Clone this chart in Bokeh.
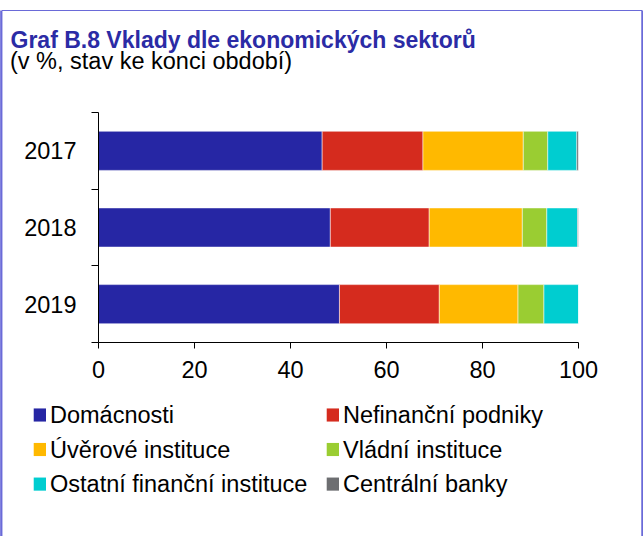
from bokeh.plotting import figure
from bokeh.models import (Range1d, LinearAxis, FixedTicker, Label, ColumnDataSource)
from bokeh.embed import file_html
from bokeh.resources import INLINE

# ---- data -------------------------------------------------------------
title = "Graf B.8 Vklady dle ekonomických sektorů"
subtitle = "(v %, stav ke konci období)"
years = ["2017", "2018", "2019"]
sectors = ["Domácnosti", "Nefinanční podniky", "Úvěrové instituce",
           "Vládní instituce", "Ostatní finanční instituce", "Centrální banky"]
domacnosti = [46.6, 48.3, 50.2]
nefinancni = [21.0, 20.6, 20.8]
uverove = [20.9, 19.4, 16.4]
vladni = [5.1, 5.1, 5.4]
ostatni = [6.05, 6.4, 7.2]
centralni = [0.35, 0.2, 0.0]
x_ticks = [0, 20, 40, 60, 80, 100]
colors = ["#2626A4", "#D52B1E", "#FFB900", "#9ACD32", "#00CDD0", "#6D6E71"]

FONT = "Liberation Sans"
TXT = "23.5px"
FRAME = "#6A6AD8"

# category slots: first year at the top, one unit per category
n = len(years)
slot = {y: n - 0.5 - i for i, y in enumerate(years)}

series = [domacnosti, nefinancni, uverove, vladni, ostatni, centralni]
data = {"pos": [slot[y] for y in years]}
for name, vals in zip(sectors, series):
    data[name] = vals
source = ColumnDataSource(data)

p = figure(width=643, height=536,
           y_range=Range1d(0, n), x_range=Range1d(0, 100),
           output_backend="svg", toolbar_location=None, y_axis_location=None,
           min_border_left=98, min_border_right=65,
           min_border_top=112, min_border_bottom=194)
p.outline_line_color = None
p.grid.visible = False
p.background_fill_color = "white"
p.border_fill_color = "white"

p.hbar_stack(sectors, y="pos", height=0.51, fill_color=colors, source=source,
             line_color="white", line_alpha=0.5, line_width=1)

# x axis
xa = p.xaxis[0]
xa.ticker = FixedTicker(ticks=x_ticks)
xa.axis_line_color = "black"
xa.major_tick_line_color = "black"
xa.major_tick_out = 6
xa.major_tick_in = 0
xa.minor_tick_line_color = None
xa.major_label_standoff = 12
xa.major_label_text_font = FONT
xa.major_label_text_font_size = TXT
xa.major_label_text_color = "black"

# y axis: labels at category centres, ticks at category boundaries
ya = LinearAxis(ticker=FixedTicker(ticks=[slot[y] for y in years],
                                   minor_ticks=list(range(n + 1))),
                major_label_overrides={slot[y]: y for y in years})
ya.axis_line_color = "black"
ya.major_tick_out = 0
ya.major_tick_in = 0
ya.major_tick_line_color = None
ya.minor_tick_out = 7
ya.minor_tick_in = 0
ya.minor_tick_line_color = "black"
ya.major_label_standoff = 15
ya.major_label_text_font = FONT
ya.major_label_text_font_size = TXT
ya.major_label_text_color = "black"
p.add_layout(ya, "left")


def box(x, y, px, py, color, place):
    """A filled empty-text label box, centred on canvas point (x, y)."""
    p.add_layout(Label(x=x, y=y, x_units="canvas", y_units="canvas", text=" ",
                       text_font_size="1px", text_align="center", text_baseline="middle",
                       padding=dict(x=px, y=py), background_fill_color=color,
                       border_line_color=None), place)


# frame border: top, left and right edges
box(321.5, 10, 320, 0, FRAME, "above")
box(0.8, 332.6, 1, 322, FRAME, "left")
box(641.9, 332.6, 1, 322, FRAME, "right")

# title / subtitle
p.add_layout(Label(x=10, y=39.2, x_units="canvas", y_units="canvas", text=title,
                   text_font=FONT, text_font_size="23px", text_font_style="bold",
                   text_color="#2B2BA5", text_baseline="alphabetic"), "above")
p.add_layout(Label(x=9.5, y=60, x_units="canvas", y_units="canvas", text=subtitle,
                   text_font=FONT, text_font_size=TXT,
                   text_color="black", text_baseline="alphabetic"), "above")

# legend (2 columns x 3 rows); pieces spread over side panels that have room
col_sq = [39.35, 332.35]
col_tx = [49.5, 342.5]
row_mid = [414.5, 449.0, 483.6]
square_panel = ["above", "above", "right", "right", "right", "right"]
text_panel = ["below", "below", "below", "below", "below", "above"]
for i, (name, c) in enumerate(zip(sectors, colors)):
    r, k = divmod(i, 2)
    m = row_mid[r]
    box(col_sq[k], m, 6, 6, c, square_panel[i])
    p.add_layout(Label(x=col_tx[k], y=m + 0.3, x_units="canvas", y_units="canvas",
                       text=name, text_font=FONT, text_font_size=TXT,
                       text_color="black", text_baseline="alphabetic"), text_panel[i])

open("out.html", "w").write(file_html(p, INLINE))
